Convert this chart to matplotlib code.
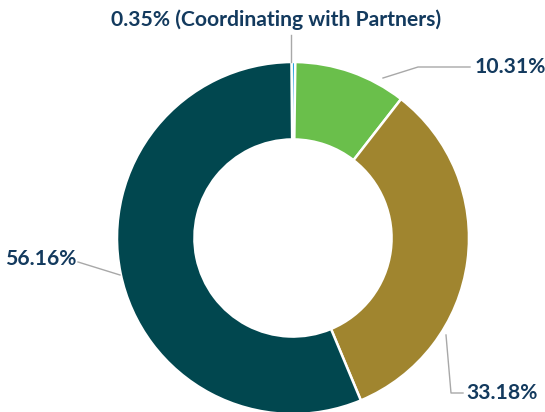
import matplotlib
matplotlib.use("Agg")
import matplotlib.pyplot as plt

categories = ["Coordinating with Partners", "B", "C", "D"]
values = [0.35, 10.31, 33.18, 56.16]
labels = ["0.35% (Coordinating with Partners)", "10.31%", "33.18%", "56.16%"]
colors = ["#2aa8dc", "#6abf4b", "#a0852f", "#01474f"]

txt_color = "#133a5e"
line_color = "#a8a8a8"

fig = plt.figure(figsize=(5.45, 4.12), dpi=100)
ax = fig.add_axes([0, 0, 1, 1])

cx, cy, r = 293, 174, 176
ax.pie(values, colors=colors, startangle=90.5, counterclock=False,
       center=(cx, cy), radius=r, frame=True,
       wedgeprops=dict(width=r * 0.44, edgecolor="white", linewidth=1.8))
ax.set_xlim(0, 545)
ax.set_ylim(0, 412)
ax.set_aspect("equal")
ax.axis("off")

font = dict(family="Lato", weight="bold", color=txt_color, fontsize=15.2)

# leader lines (pixel coords, y up)
ax.plot([291, 291], [377, 350], color=line_color, lw=1)
ax.plot([383, 418, 470], [334, 345, 345], color=line_color, lw=1)
ax.plot([446, 451, 463], [77, 19, 19], color=line_color, lw=1)
ax.plot([78, 120], [150, 137], color=line_color, lw=1)

ax.text(276, 392, labels[0], ha="center", va="center", **font)
ax.text(475, 345, labels[1], ha="left", va="center", **font)
ax.text(466, 19, labels[2], ha="left", va="center", **font)
ax.text(77, 153, labels[3], ha="right", va="center", **font)

fig.savefig("out.png", dpi=100)
